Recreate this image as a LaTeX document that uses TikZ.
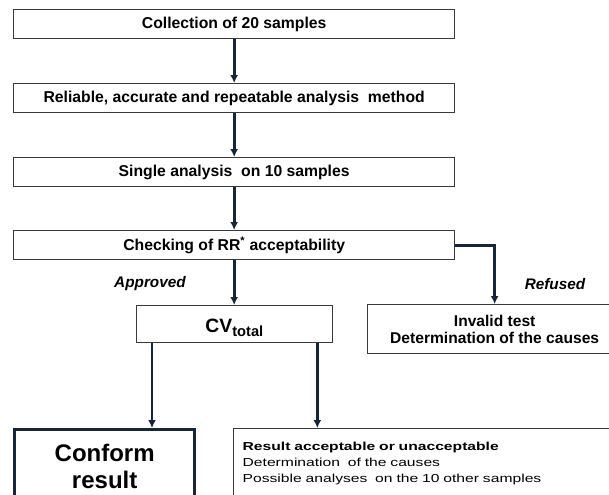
\documentclass[tikz,border=0pt]{standalone}
\usepackage{fontspec}
\setmainfont{Liberation Sans}
\newfontfamily\widesans[FakeStretch=1.35]{Liberation Sans}
\usepackage{tikz}
\usetikzlibrary{arrows.meta}
\definecolor{boxline}{HTML}{3A3A3A}
\definecolor{arrowcol}{HTML}{15263A}
\tikzstyle{arrow} = [draw, line width=2pt, color=arrowcol, -{Latex[length=6pt,width=6pt]}]
\tikzstyle{stepbox} = [draw=boxline, line width=1pt, anchor=north west, minimum height=21.75pt, minimum width=330.75pt, font=\bfseries\fontsize{11.8}{13}\selectfont]
\tikzstyle{branch} = [font=\bfseries\itshape\fontsize{11.5}{13}\selectfont]

\begin{document}
\begin{tikzpicture}[x=0.75pt,y=-0.75pt]

\useasboundingbox (0,0) rectangle (609,494);
\clip (0,0) rectangle (609,494);


%%% %%%
% Steps
%%% %%%


\foreach \y/\i [count=\n] in
{9/Collection of 20 samples,83/{Reliable, accurate and repeatable analysis\ \ method},157/Single analysis\ \ on 10 samples,230/Checking of RR\textsuperscript{*} acceptability}
\node[stepbox] at (13,\y) (STEP\n) {\i} ;

\draw [arrow] (STEP1.south) to (STEP2.north);
\draw [arrow] (STEP2.south) to (STEP3.north);
\draw [arrow] (STEP3.south) to (STEP4.north);


%%% %%%
% Decision
%%% %%%


\node[branch] at (150,284) (LAPP) {Approved};
\node[branch] at (555,284) (LREF) {Refused};

\node[draw=boxline, line width=1pt, anchor=north west, minimum height=27.75pt, minimum width=147pt, text height=13pt, text depth=0pt, font=\bfseries\fontsize{14.5}{16}\selectfont] at (136,305) (CVT) {CV\textsubscript{\fontsize{11}{12}\selectfont total}};

\node[draw=boxline, line width=1pt, anchor=north west, minimum height=36.75pt, minimum width=190.5pt, align=center, font=\bfseries\fontsize{11.7}{13}\selectfont] at (367,304) (REF) {Invalid test\\Determination of the causes};

\draw [arrow] (STEP4.south) to (STEP4.south |- CVT.north);
\draw [arrow] (STEP4.east) -| (REF.north);


%%% %%%
% Results
%%% %%%


\node[draw=arrowcol, line width=2.5pt, anchor=north west, minimum height=55.5pt, minimum width=135pt, align=center, font=\bfseries\fontsize{18}{20}\selectfont] at (13,428) (CONF) {Conform\\result};

\node[draw=boxline, line width=1pt, anchor=north west, minimum height=52.5pt, inner xsep=6.75pt, text width=277.5pt, align=left, font=\widesans\fontsize{8.7}{12}\selectfont] at (233,428) (RES) {\textbf{Result acceptable or unacceptable}\\Determination\ \ of the causes\\Possible analyses\ \ on the 10 other samples};

\draw [arrow] ([xshift=12pt]CVT.south west) to ([xshift=12pt]CVT.south west |- CONF.north);
\draw [arrow] ([xshift=-12pt]CVT.south east) to ([xshift=-12pt]CVT.south east |- RES.north);


\end{tikzpicture}
\end{document}
